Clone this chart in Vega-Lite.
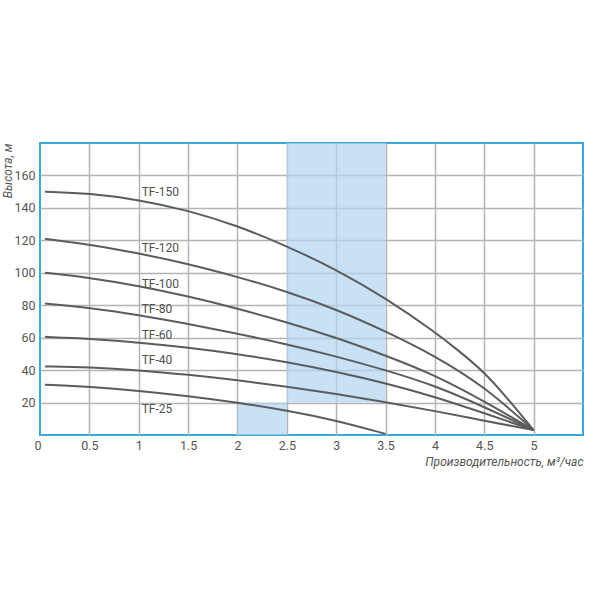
{
  "$schema": "https://vega.github.io/schema/vega-lite/v6.json",
  "width": 543,
  "height": 292,
  "autosize": {"type": "none"},
  "padding": {"left": 40, "top": 143, "right": 17, "bottom": 165},
  "background": "white",
  "config": {
    "view": {"stroke": "#3aa9d8", "strokeWidth": 2},
    "font": "Roboto"
  },
  "datasets": {
    "shade": [
      {"q1": 2.5, "q2": 3.5, "h1": 20, "h2": 180},
      {"q1": 2, "q2": 2.5, "h1": 0, "h2": 20}
    ],
    "curves": [
      {"series": "TF-150", "q": 0.05, "h": 150},
      {"series": "TF-150", "q": 0.5, "h": 149},
      {"series": "TF-150", "q": 1, "h": 145},
      {"series": "TF-150", "q": 1.5, "h": 138.5},
      {"series": "TF-150", "q": 2, "h": 129},
      {"series": "TF-150", "q": 2.5, "h": 116.5},
      {"series": "TF-150", "q": 3, "h": 102},
      {"series": "TF-150", "q": 3.5, "h": 84.5},
      {"series": "TF-150", "q": 4, "h": 63.5},
      {"series": "TF-150", "q": 4.25, "h": 51.5},
      {"series": "TF-150", "q": 4.5, "h": 38.8},
      {"series": "TF-150", "q": 4.75, "h": 21.5},
      {"series": "TF-150", "q": 5, "h": 3},
      {"series": "TF-120", "q": 0.05, "h": 121},
      {"series": "TF-120", "q": 0.5, "h": 117.5},
      {"series": "TF-120", "q": 1, "h": 112},
      {"series": "TF-120", "q": 1.5, "h": 105.5},
      {"series": "TF-120", "q": 2, "h": 97.5},
      {"series": "TF-120", "q": 2.5, "h": 88.5},
      {"series": "TF-120", "q": 3, "h": 77.5},
      {"series": "TF-120", "q": 3.5, "h": 64},
      {"series": "TF-120", "q": 4, "h": 48.8},
      {"series": "TF-120", "q": 4.5, "h": 30},
      {"series": "TF-120", "q": 5, "h": 3},
      {"series": "TF-100", "q": 0.05, "h": 100},
      {"series": "TF-100", "q": 0.5, "h": 97},
      {"series": "TF-100", "q": 1, "h": 92},
      {"series": "TF-100", "q": 1.5, "h": 85.5},
      {"series": "TF-100", "q": 2, "h": 78},
      {"series": "TF-100", "q": 2.5, "h": 69.5},
      {"series": "TF-100", "q": 3, "h": 60},
      {"series": "TF-100", "q": 3.5, "h": 49},
      {"series": "TF-100", "q": 4, "h": 37},
      {"series": "TF-100", "q": 4.5, "h": 20.8},
      {"series": "TF-100", "q": 5, "h": 3},
      {"series": "TF-80", "q": 0.05, "h": 81},
      {"series": "TF-80", "q": 0.5, "h": 78.5},
      {"series": "TF-80", "q": 1, "h": 74},
      {"series": "TF-80", "q": 1.5, "h": 68.5},
      {"series": "TF-80", "q": 2, "h": 62.5},
      {"series": "TF-80", "q": 2.5, "h": 56},
      {"series": "TF-80", "q": 3, "h": 48.5},
      {"series": "TF-80", "q": 3.5, "h": 40},
      {"series": "TF-80", "q": 4, "h": 30.5},
      {"series": "TF-80", "q": 4.5, "h": 17.3},
      {"series": "TF-80", "q": 5, "h": 3},
      {"series": "TF-60", "q": 0.05, "h": 60.5},
      {"series": "TF-60", "q": 0.5, "h": 59.5},
      {"series": "TF-60", "q": 1, "h": 57},
      {"series": "TF-60", "q": 1.5, "h": 54},
      {"series": "TF-60", "q": 2, "h": 50},
      {"series": "TF-60", "q": 2.5, "h": 45},
      {"series": "TF-60", "q": 3, "h": 39},
      {"series": "TF-60", "q": 3.5, "h": 32},
      {"series": "TF-60", "q": 4, "h": 23.6},
      {"series": "TF-60", "q": 4.5, "h": 13.5},
      {"series": "TF-60", "q": 5, "h": 3},
      {"series": "TF-40", "q": 0.05, "h": 42.3},
      {"series": "TF-40", "q": 0.5, "h": 41.8},
      {"series": "TF-40", "q": 1, "h": 40},
      {"series": "TF-40", "q": 1.5, "h": 37.2},
      {"series": "TF-40", "q": 2, "h": 33.8},
      {"series": "TF-40", "q": 2.5, "h": 29.8},
      {"series": "TF-40", "q": 3, "h": 25.3},
      {"series": "TF-40", "q": 3.5, "h": 20.3},
      {"series": "TF-40", "q": 4, "h": 14.8},
      {"series": "TF-40", "q": 4.5, "h": 8.8},
      {"series": "TF-40", "q": 5, "h": 3},
      {"series": "TF-25", "q": 0.05, "h": 31},
      {"series": "TF-25", "q": 0.5, "h": 29.7},
      {"series": "TF-25", "q": 1, "h": 27.3},
      {"series": "TF-25", "q": 1.5, "h": 24},
      {"series": "TF-25", "q": 2, "h": 20},
      {"series": "TF-25", "q": 2.5, "h": 15.2},
      {"series": "TF-25", "q": 3, "h": 9},
      {"series": "TF-25", "q": 3.5, "h": 0.7}
    ],
    "labels": [
      {"label": "TF-150", "q": 1.03, "h": 150},
      {"label": "TF-120", "q": 1.03, "h": 115.3},
      {"label": "TF-100", "q": 1.03, "h": 93},
      {"label": "TF-80", "q": 1.03, "h": 77.7},
      {"label": "TF-60", "q": 1.03, "h": 61.7},
      {"label": "TF-40", "q": 1.03, "h": 46},
      {"label": "TF-25", "q": 1.03, "h": 16.1}
    ]
  },
  "layer": [
    {
      "data": {"name": "shade"},
      "mark": {"type": "rect", "color": "#b2d4ef", "opacity": 0.7},
      "encoding": {
        "x": {
          "field": "q1", "type": "quantitative",
          "scale": {"domain": [0, 5.5], "nice": false, "zero": false},
          "axis": {
            "values": [0, 0.5, 1, 1.5, 2, 2.5, 3, 3.5, 4, 4.5, 5],
            "labelExpr": "'' + datum.value",
            "grid": true,
            "gridColor": "#b4b4b4",
            "gridWidth": 1.5,
            "gridOpacity": {"condition": {"test": "datum.value === 0", "value": 0}, "value": 1},
            "ticks": false,
            "domain": false,
            "labelColor": "#555555",
            "labelFont": "Roboto",
            "labelFontSize": 12.5,
            "labelPadding": 4,
            "labelOffset": {"condition": {"test": "datum.value === 0", "value": -6}, "value": 0},
            "title": "Производительность, м³/час",
            "titleFont": "Roboto",
            "titleFontStyle": "italic",
            "titleFontWeight": "normal",
            "titleFontSize": 12,
            "titleColor": "#555555",
            "titleAlign": "right",
            "titleBaseline": "alphabetic",
            "titleX": 543,
            "titleY": 30
          }
        },
        "x2": {"field": "q2"},
        "y": {
          "field": "h1", "type": "quantitative",
          "scale": {"domain": [0, 180], "nice": false, "zero": false},
          "axis": {
            "values": [20, 40, 60, 80, 100, 120, 140, 160],
            "grid": true,
            "gridColor": "#b4b4b4",
            "gridWidth": 1.5,
            "ticks": false,
            "domain": false,
            "labelColor": "#555555",
            "labelFont": "Roboto",
            "labelFontSize": 12.5,
            "labelPadding": 5,
            "title": "Высота, м",
            "titleFont": "Roboto",
            "titleFontStyle": "italic",
            "titleFontWeight": "normal",
            "titleFontSize": 12,
            "titleColor": "#555555",
            "titleAngle": 270,
            "titleAlign": "right",
            "titleBaseline": "middle",
            "titleX": -33,
            "titleY": 0
          }
        },
        "y2": {"field": "h2"}
      }
    },
    {
      "data": {"name": "curves"},
      "mark": {"type": "line", "color": "#5c5c5c", "strokeWidth": 2, "interpolate": "basis"},
      "encoding": {
        "x": {"field": "q", "type": "quantitative"},
        "y": {"field": "h", "type": "quantitative"},
        "detail": {"field": "series", "type": "nominal"}
      }
    },
    {
      "data": {"name": "labels"},
      "mark": {"type": "text", "align": "left", "baseline": "middle", "fontSize": 12, "color": "#4f4f4f", "font": "Roboto"},
      "encoding": {
        "x": {"field": "q", "type": "quantitative"},
        "y": {"field": "h", "type": "quantitative"},
        "text": {"field": "label", "type": "nominal"}
      }
    }
  ]
}
